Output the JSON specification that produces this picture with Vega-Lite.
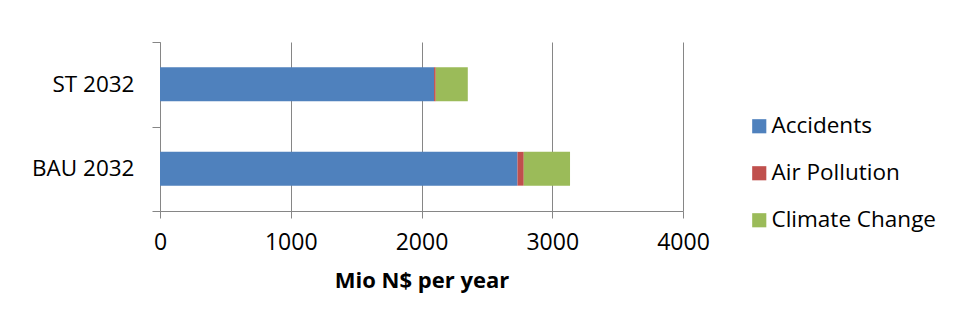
{
  "$schema": "https://vega.github.io/schema/vega-lite/v6.json",
  "autosize": "none",
  "padding": {"left": 160, "top": 42, "right": 275, "bottom": 116},
  "width": 523,
  "height": 169,
  "background": "white",
  "config": {
    "font": "Open Sans",
    "view": {"stroke": null}
  },
  "data": {
    "values": [
      {"scenario": "ST 2032", "type": "Accidents", "value": 2096},
      {"scenario": "ST 2032", "type": "Air Pollution", "value": 13},
      {"scenario": "ST 2032", "type": "Climate Change", "value": 245},
      {"scenario": "BAU 2032", "type": "Accidents", "value": 2734},
      {"scenario": "BAU 2032", "type": "Air Pollution", "value": 48},
      {"scenario": "BAU 2032", "type": "Climate Change", "value": 354}
    ]
  },
  "mark": {"type": "bar", "height": {"band": 0.4}},
  "encoding": {
    "y": {
      "field": "scenario",
      "type": "nominal",
      "sort": ["ST 2032", "BAU 2032"],
      "scale": {"paddingInner": 0, "paddingOuter": 0},
      "axis": {
        "title": null,
        "tickBand": "extent",
        "tickSize": 8,
        "tickColor": "#868686",
        "domainColor": "#868686",
        "labelFontSize": 22.5,
        "labelColor": "#000000",
        "labelPadding": 18,
        "labelFont": "Open Sans"
      }
    },
    "x": {
      "field": "value",
      "type": "quantitative",
      "stack": "zero",
      "scale": {"domain": [0, 4000], "nice": false},
      "axis": {
        "title": "Mio N$ per year",
        "titleFontSize": 22,
        "titleFontWeight": "bold",
        "titleColor": "#000000",
        "titlePadding": 16,
        "values": [0, 1000, 2000, 3000, 4000],
        "format": "d",
        "grid": true,
        "gridColor": "#868686",
        "tickColor": "#868686",
        "domainColor": "#868686",
        "tickSize": 7,
        "labelFlush": false,
        "labelFontSize": 23,
        "labelColor": "#000000",
        "labelPadding": 13
      }
    },
    "color": {
      "field": "type",
      "type": "nominal",
      "scale": {
        "domain": ["Accidents", "Air Pollution", "Climate Change"],
        "range": ["#4F81BD", "#C0504D", "#9BBB59"]
      },
      "legend": {
        "title": null,
        "orient": "none",
        "legendX": 588,
        "legendY": 73,
        "padding": 0,
        "symbolType": "square",
        "symbolSize": 200,
        "symbolStrokeWidth": 0,
        "labelFontSize": 22.5,
        "labelColor": "#000000",
        "labelOffset": 1,
        "labelLimit": 400,
        "rowPadding": 24
      }
    },
    "order": {"field": "type"}
  }
}
